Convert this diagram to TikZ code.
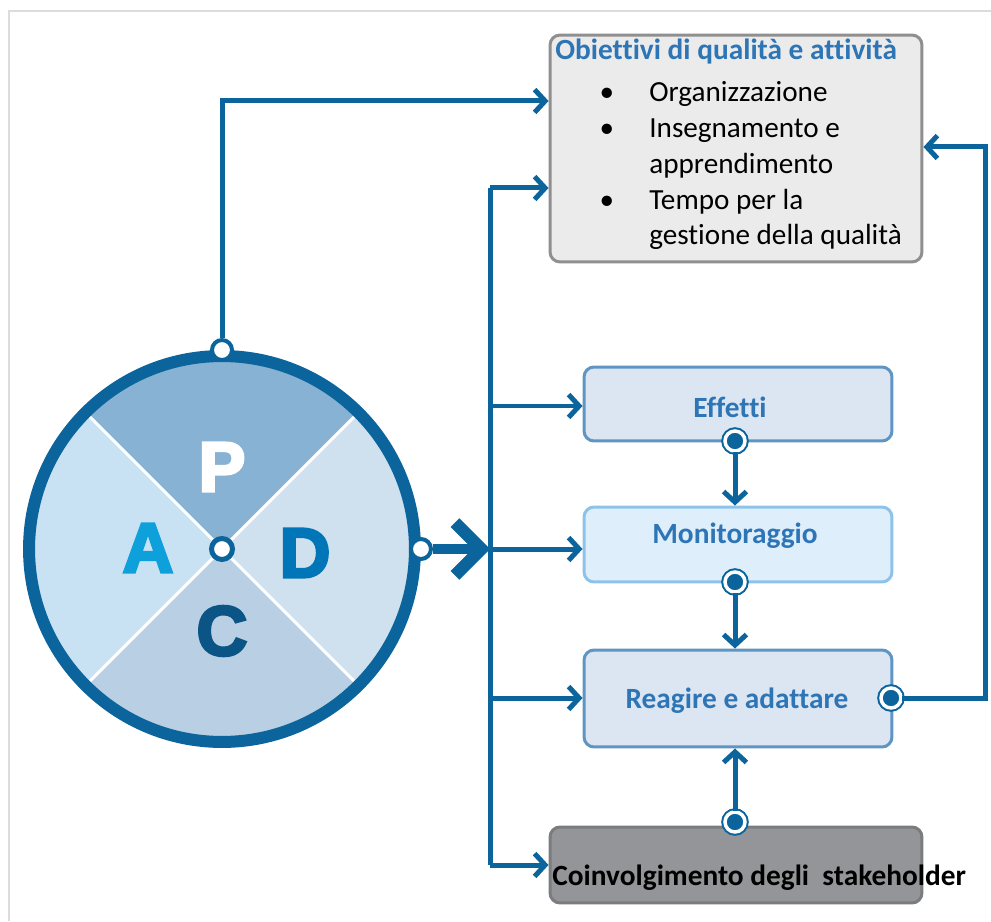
\documentclass[tikz,border=0pt]{standalone}
\usepackage{fontspec}
\setmainfont{Carlito}[Ligatures=NoCommon]
\newfontfamily\pdcafont{Liberation Sans}[BoldFont={Liberation Sans Bold}, BoldFeatures={FakeBold=4}]
\usetikzlibrary{positioning,arrows.meta}

\definecolor{ringblue}{HTML}{0B659C}
\definecolor{titleblue}{HTML}{2E75B6}
\definecolor{framegray}{HTML}{DCDCDC}
\definecolor{quadP}{HTML}{88B2D3}
\definecolor{quadD}{HTML}{CFE0EF}
\definecolor{quadC}{HTML}{B9CFE3}
\definecolor{quadA}{HTML}{C8E2F4}
\definecolor{letA}{HTML}{0DA0DB}
\definecolor{letD}{HTML}{0076B8}
\definecolor{letC}{HTML}{0A5585}
\definecolor{objfill}{HTML}{EBEBEB}
\definecolor{objgray}{HTML}{8F8F8F}
\definecolor{efffill}{HTML}{DCE6F2}
\definecolor{effborder}{HTML}{5F95C3}
\definecolor{monfill}{HTML}{DEEEFA}
\definecolor{monborder}{HTML}{8DC3EB}
\definecolor{coinfill}{HTML}{939598}
\definecolor{coingray}{HTML}{7B7C7E}

\begin{document}
\begin{tikzpicture}[x=0.02cm, y=0.02cm,
    >={Straight Barb[length=6pt,width=13pt]},
    conn/.style={draw=ringblue, line width=0.1cm},
    boxlabel/.style={font=\fontsize{16.7}{19}\selectfont\bfseries, text=titleblue, inner sep=0pt},
    itemtext/.style={font=\fontsize{16.6}{19}\selectfont, inner sep=0pt, anchor=base west},
    panel/.style={rounded corners=0.2cm, line width=0.06cm, minimum width=6.16cm, inner sep=0pt},
    boxport/.style={circle, fill=ringblue, draw=ringblue, double=white, double distance=0.07cm, line width=0.04cm, minimum size=0.4cm, inner sep=0pt},
    ringport/.style={circle, fill=white, draw=ringblue, line width=0.08cm, minimum size=0.4cm, inner sep=0pt},
    letter/.style={font=\pdcafont\bfseries\fontsize{40}{40}\selectfont, inner sep=0pt}]

    \useasboundingbox (0,0) rectangle (991,921);
    % Frame
    \draw[framegray, line width=0.04cm] (9,0) -- (9,910) -- (991,910);

    % PDCA wheel
    \foreach \ang/\col in {45/quadP, 135/quadA, 225/quadC, 315/quadD} {
      \fill[\col] (222,372) -- ++(\ang:193) arc[start angle=\ang, delta angle=90, radius=193] -- cycle;
    }
    \foreach \ang in {45, 135, 225, 315} {
      \draw[white, line width=0.06cm] (222,372) -- ++(\ang:190);
    }
    \node[circle, draw=ringblue, line width=0.24cm, minimum size=7.72cm, inner sep=0pt] (pdca) at (222,372) {};
    \node[circle, draw=ringblue, fill=white, line width=0.1cm, minimum size=0.42cm, inner sep=0pt] (hub) at (pdca.center) {};

    \node[letter, text=white] (letP) at (222,454) {P};
    \node[letter, text=letA] (letA) at (148,373) {A};
    \node[letter, text=letD] (letD) at (305,368) {D};
    \node[letter, text=letC] (letC) at (222,290) {C};

    \node[ringport] (pdcaT) at (pdca.north) {};
    \node[ringport] (pdcaR) at (pdca.east) {};

    % Objectives box
    \node[panel, draw=objgray, fill=objfill, minimum width=7.44cm, minimum height=4.54cm] (obj) at (736,772.5) {};
    \node[boxlabel, anchor=base west] (objTitle) at (555,861) {Obiettivi di qualit\`a e attivit\`a};
    \foreach \txt [count=\i] in {Organizzazione, Insegnamento e, apprendimento, Tempo per la, gestione della qualit\`a} {
      \node[itemtext] (item\i) at (649, 855-35.8*\i) {\txt};
    }
    \foreach \i in {1, 2, 4} {
      \node[itemtext, anchor=base] (bullet\i) at (607, 855-35.8*\i) {\textbullet};
    }

    % Cycle boxes
    \node[panel, draw=effborder, fill=efffill, minimum height=1.48cm] (eff) at (738,517) {};
    \node[boxlabel, anchor=base] (effText) at (730,503) {Effetti};
    \node[panel, draw=monborder, fill=monfill, minimum height=1.5cm] (mon) at (738,376.5) {};
    \node[boxlabel, anchor=base] (monText) at (735,378) {Monitoraggio};
    \node[panel, draw=effborder, fill=efffill, minimum height=1.94cm] (rea) at (738,222.5) {};
    \node[boxlabel, anchor=base] (reaText) at (737,213) {Reagire e adattare};
    \node[panel, draw=coingray, fill=coinfill, minimum width=7.44cm, minimum height=1.52cm] (coin) at (736,56) {};
    \node[boxlabel, text=black, anchor=base west] (coinText) at (552,36) {Coinvolgimento degli\ \ stakeholder};

    % Ports on the boxes
    \node[boxport] (effB) at (735,480) {};
    \node[boxport] (monB) at (735,339) {};
    \node[boxport] (coinT) at (735,99) {};
    \node[boxport] (reaR) at (891,223) {};

    % PDCA to objectives
    \coordinate (topBend) at (222,820);
    \draw[conn, ->] (pdcaT) -- (topBend) -- (topBend -| obj.west);

    % Main output and bus
    \coordinate (busTop) at (490,733);
    \coordinate (busBot) at (490,56);
    \coordinate (busMid) at (490,372);
    \draw[conn, line width=0.2cm, -{Straight Barb[length=15pt,width=30pt,line width=7pt]}] (pdcaR) -- (busMid);
    \draw[conn] (busTop) -- (busBot);
    \draw[conn, ->] (busTop) -- (busTop -| obj.west);
    \foreach \y/\tgt in {515/eff, 372/mon, 223/rea, 56/coin} {
      \coordinate (bus\tgt) at (490,\y);
      \draw[conn, ->] (bus\tgt) -- (bus\tgt -| \tgt.west);
    }

    % Between the boxes
    \draw[conn, ->] (effB) -- (mon.north -| effB);
    \draw[conn, ->] (monB) -- (rea.north -| monB);
    \draw[conn, ->] (coinT) -- (rea.south -| coinT);

    % Feedback to objectives
    \coordinate (fbBot) at (985,223);
    \coordinate (fbTop) at (985,774);
    \draw[conn, ->] (reaR) -- (fbBot) -- (fbTop) -- (fbTop -| obj.east);
  \end{tikzpicture}
\end{document}
